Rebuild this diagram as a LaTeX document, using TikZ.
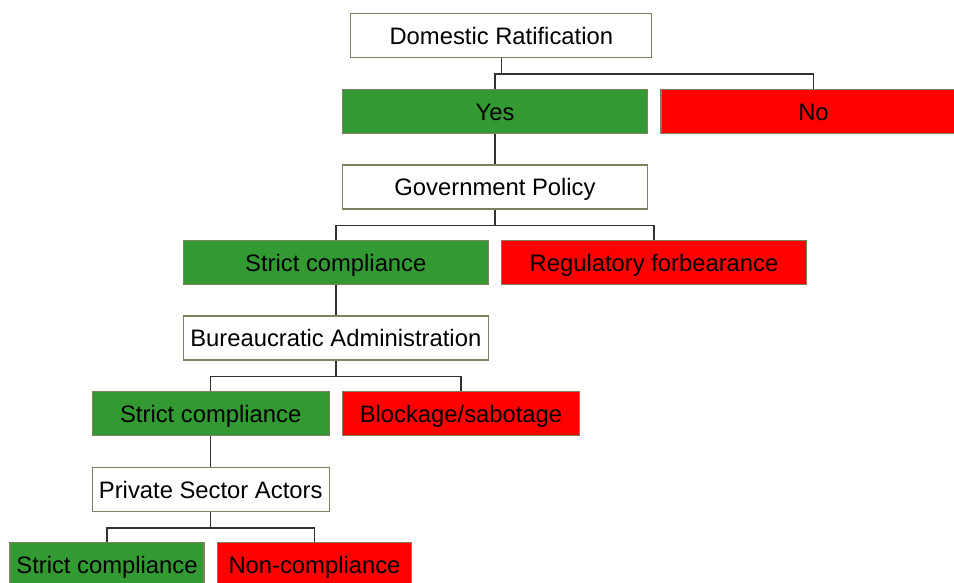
\documentclass[tikz,border=0pt]{standalone}
\usepackage{fontspec}
\setmainfont{Liberation Sans}
\definecolor{okgreen}{RGB}{51,153,51}
\definecolor{nored}{RGB}{255,0,0}
\definecolor{boxline}{RGB}{128,128,96}
\definecolor{linkline}{RGB}{50,50,50}

\tikzstyle{stage}=[draw=boxline,line width=1.2pt,minimum height=44,inner sep=0pt,text height=17.4pt,text depth=0pt,font=\fontsize{23.8}{28}\selectfont]
\tikzstyle{link}=[draw=linkline,line width=1.4pt]

\begin{document}
\begin{tikzpicture}[x=1pt,y=-1pt]
    \useasboundingbox (0,0) rectangle (954,582);
    % First the boxes of each stage and its outcomes
    \foreach \pos/\name/\boxw/\col/\txt in {{(501.3,35.3)/dr/301/white/Domestic Ratification},
            {(495,111.3)/yes/305/okgreen/Yes}, {(813.5,111.3)/no/305/nored/No},
            {(495,187)/gov/305/white/Government Policy},
            {(335.8,262.3)/sc1/305/okgreen/Strict compliance}, {(654,262.3)/rf/305/nored/Regulatory forbearance},
            {(335.8,338)/bur/305/white/Bureaucratic Administration},
            {(210.7,413.8)/sc2/237/okgreen/Strict compliance}, {(461,413.8)/bs/237/nored/{Blockage/sabotage}},
            {(210.7,489.5)/psa/237/white/Private Sector Actors},
            {(107,564.7)/sc3/194/okgreen/Strict compliance}, {(314.5,564.7)/nc/194/nored/Non-compliance}}
        \node[stage, minimum width=\boxw, fill=\col] (\name) at \pos {\txt};
    % Forks from each stage down to its two outcomes
    \foreach \parent/\good/\bad in {dr/yes/no, gov/sc1/rf, bur/sc2/bs, psa/sc3/nc}
        \path[link] (\parent.south) -- ++(0,16) coordinate (fork) (\good.north) |- (fork) -| (\bad.north);
    % Compliance leads on to the next stage
    \foreach \source/\dest in {yes/gov, sc1/bur, sc2/psa}
        \path[link] (\source.south) -- (\dest.north);
\end{tikzpicture}
\end{document}
